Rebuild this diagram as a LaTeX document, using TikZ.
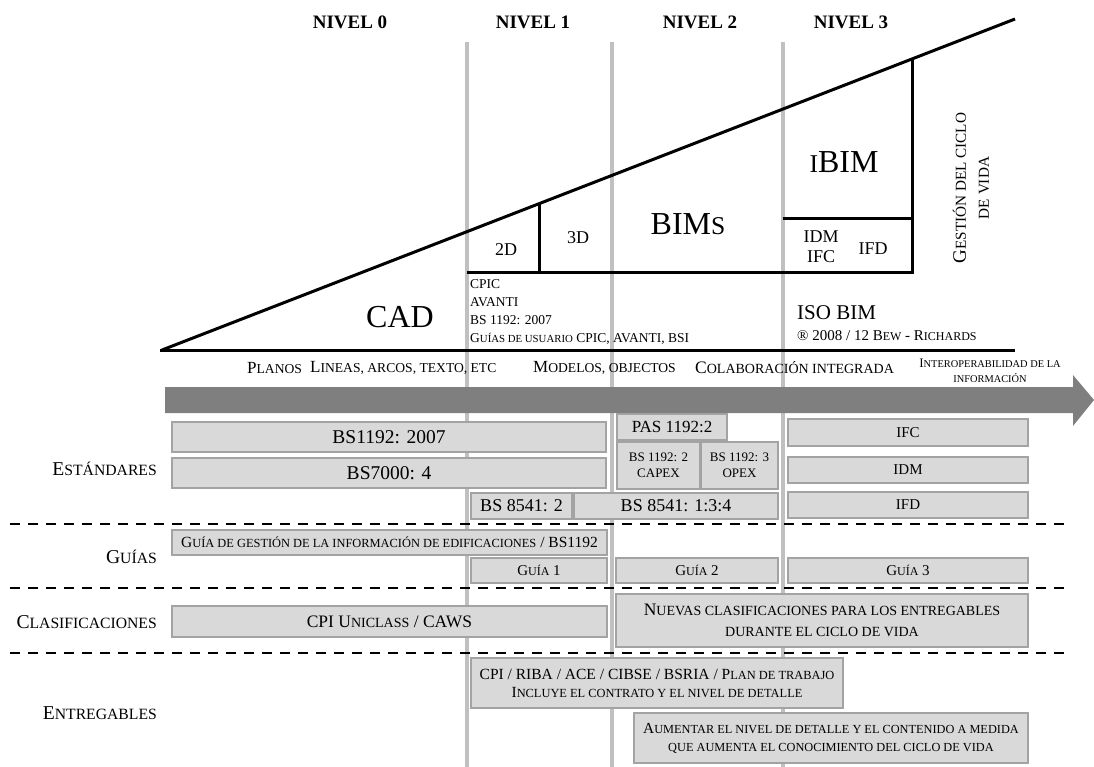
\documentclass[tikz,border=0pt]{standalone}
\usepackage{fontspec}
\setmainfont{Liberation Serif}

\newcommand{\fsc}[1]{\scalebox{0.8}{#1}}

\definecolor{cajafondo}{HTML}{D9D9D9}
\definecolor{cajaborde}{HTML}{A3A3A3}
\definecolor{nivelgris}{HTML}{C0C0C0}
\definecolor{flechagris}{HTML}{7F7F7F}

\tikzset{
  caja/.style 2 args={draw=cajaborde, fill=cajafondo, line width=1.2pt,
    minimum width=#1, minimum height=#2, align=center},
  tam/.style 2 args={font=\fontsize{#1}{#2}\selectfont},
  nivel/.style={font=\fontsize{19}{22}\selectfont\bfseries},
  fila/.style={anchor=east, font=\fontsize{19.6}{22}\selectfont},
  separa/.style={line width=2.5pt, dash pattern=on 10pt off 8pt},
}

\begin{document}
\begin{tikzpicture}[x=1pt,y=-1pt,inner sep=0pt]
\useasboundingbox (0,0) rectangle (1094,767);

% Niveles
\node[nivel] (n0) at (350,22) {NIVEL 0};
\node[nivel] (n1) at (533,22) {NIVEL 1};
\node[nivel] (n2) at (700,22) {NIVEL 2};
\node[nivel] (n3) at (851,22) {NIVEL 3};

% Verticales
\foreach \x in {467,612,783}
  \draw[nivelgris, line width=4pt] (\x,42) -- (\x,767);

% Flecha
\fill[flechagris] (165,387) -- (1073,387) -- (1073,375) -- (1094,400)
  -- (1073,426) -- (1073,413) -- (165,413) -- cycle;

% Triangulo
\draw[line width=3pt] (162,350) -- (1015,19);
\draw[line width=3pt] (160,350) -- (1015,350);
\draw[line width=3pt] (467,272) -- (913.5,272);
\draw[line width=3pt] (539,204) -- (539,272);
\draw[line width=3pt] (912,59) -- (912,273.5);
\draw[line width=3pt] (783,219) -- (912,219);

\node[tam={32}{36}] (cad) at (400,317) {CAD};
\node[tam={18}{20}] (d2) at (506,250) {2D};
\node[tam={18}{20}] (d3) at (578,238) {3D};
\node[tam={32}{36}] (bims) at (688,224) {BIM\fsc{S}};
\node[tam={32}{36}] (ibim) at (844,162) {\fsc{I}BIM};
\node[tam={18}{20}, align=center] (idm) at (821,247) {IDM\\IFC};
\node[tam={18}{20}] (ifd) at (873,249) {IFD};
\node[tam={19}{23}, rotate=90, align=center] (gestion) at (971,188)
  {G\fsc{ESTIÓN DEL CICLO}\\\fsc{DE VIDA}};

\node[tam={13.5}{18}, anchor=west, align=left] (cpic) at (470,312)
  {CPIC\\AVANTI\\BS 1192: 2007\\G\fsc{UÍAS DE USUARIO} CPIC, AVANTI, BSI};
\node[tam={21}{24}, anchor=west] (iso) at (797,313) {ISO BIM};
\node[tam={15}{17}, anchor=west] (bew) at (797,336)
  {® 2008 / 12 B\fsc{EW} - R\fsc{ICHARDS}};

% Etapas
\node[tam={17}{20}, anchor=west] (planos) at (247,368) {P\fsc{LANOS}};
\node[tam={17}{20}, anchor=west] (lineas) at (310,368) {L\fsc{INEAS, ARCOS, TEXTO, ETC}};
\node[tam={17}{20}, anchor=west] (modelos) at (533,368) {M\fsc{ODELOS, OBJECTOS}};
\node[tam={17.5}{20}, anchor=west] (colab) at (695,368) {C\fsc{OLABORACIÓN INTEGRADA}};
\node[tam={13}{15}, align=center] (interop) at (990,371)
  {I\fsc{NTEROPERABILIDAD DE LA}\\\fsc{INFORMACIÓN}};

% Filas
\node[fila] (estandares) at (157,469) {E\fsc{STÁNDARES}};
\node[fila] (guias) at (157,557) {G\fsc{UÍAS}};
\node[fila] (clasif) at (157,622) {C\fsc{LASIFICACIONES}};
\node[fila] (entreg) at (157,713) {E\fsc{NTREGABLES}};

% Estandares
\node[caja={434}{30}, tam={19.5}{22}] (bs1192) at (389,437) {BS1192: 2007};
\node[caja={434}{30}, tam={19.5}{22}] (bs7000) at (389,473) {BS7000: 4};
\node[caja={101}{26}, tam={18}{20}] (bs8541a) at (521.5,506) {BS 8541: 2};
\node[caja={204}{26}, tam={18}{20}] (bs8541b) at (676,506) {BS 8541: 1:3:4};
\node[caja={110}{26}, tam={17}{20}] (pas) at (672,427) {PAS 1192:2};
\node[caja={83}{47}, tam={13}{16}] (capex) at (658.5,465.5) {BS 1192: 2\\CAPEX};
\node[caja={77}{47}, tam={13}{16}] (opex) at (739.5,465.5) {BS 1192: 3\\OPEX};
\node[caja={240}{27}, tam={15}{18}] (ifcb) at (908,432.5) {IFC};
\node[caja={240}{26}, tam={15}{18}] (idmb) at (908,470) {IDM};
\node[caja={240}{26}, tam={15}{18}] (ifdb) at (908,505) {IFD};

% Guias
\node[caja={435}{25}, tam={15.5}{18}] (guia0) at (389.5,542.5)
  {G\fsc{UÍA DE GESTIÓN DE LA INFORMACIÓN DE EDIFICACIONES} / BS1192};
\node[caja={136}{25}, tam={15}{18}] (guia1) at (539,570.5) {G\fsc{UÍA} 1};
\node[caja={162}{25}, tam={15}{18}] (guia2) at (697,570.5) {G\fsc{UÍA} 2};
\node[caja={240}{25}, tam={15}{18}] (guia3) at (908,570.5) {G\fsc{UÍA} 3};

% Clasificaciones
\node[caja={435}{31}, tam={17.5}{20}] (uniclass) at (389.5,621.5)
  {CPI U\fsc{NICLASS} / CAWS};
\node[caja={412}{53}, tam={17.5}{21}] (nuevas) at (822,620.5)
  {N\fsc{UEVAS CLASIFICACIONES PARA LOS ENTREGABLES}\\\fsc{DURANTE EL CICLO DE VIDA}};

% Entregables
\node[caja={372}{50}, tam={15.5}{18}] (riba) at (657,683)
  {CPI / RIBA / ACE / CIBSE / BSRIA / P\fsc{LAN DE TRABAJO}\\I\fsc{NCLUYE EL CONTRATO Y EL NIVEL DE DETALLE}};
\node[caja={394}{50}, tam={15.4}{18}] (aumentar) at (831,738)
  {A\fsc{UMENTAR EL NIVEL DE DETALLE Y EL CONTENIDO A MEDIDA}\\\fsc{QUE AUMENTA EL CONOCIMIENTO DEL CICLO DE VIDA}};

% Separadores
\foreach \y in {524,588,653}
  \draw[separa] (10,\y) -- (1067,\y);

\end{tikzpicture}
\end{document}
